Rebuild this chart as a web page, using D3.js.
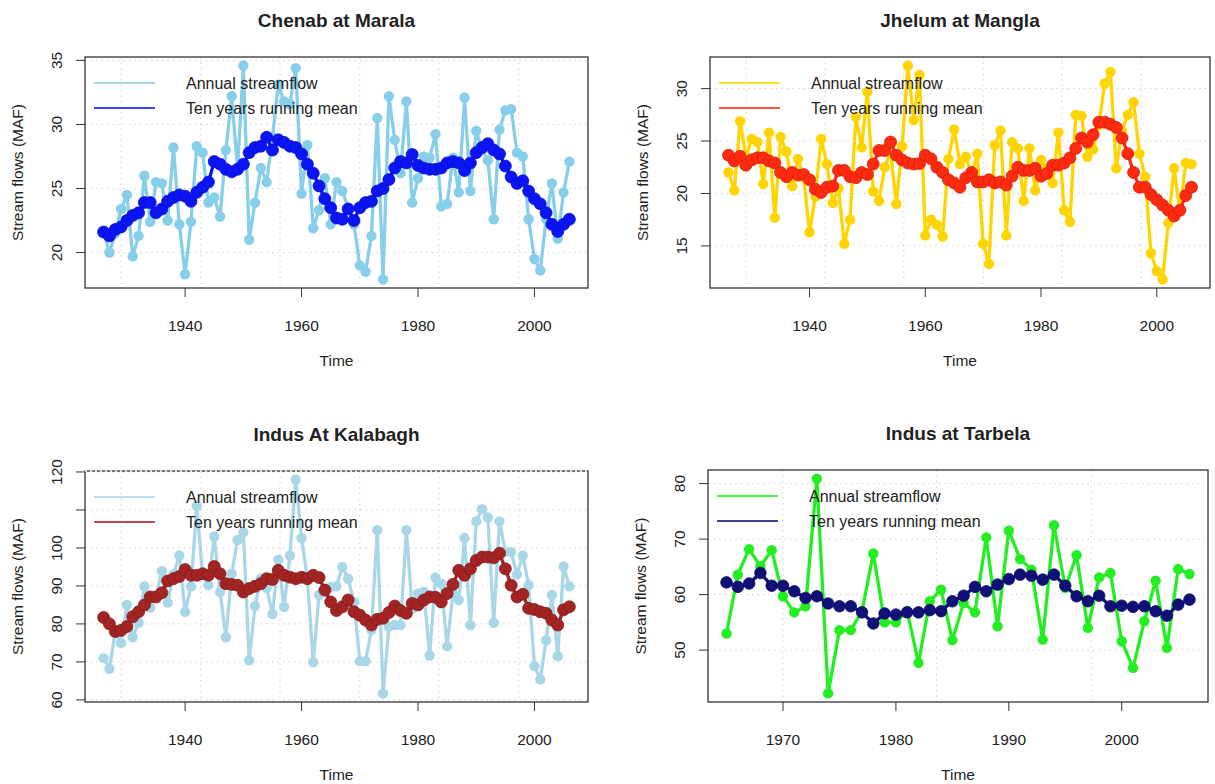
<!DOCTYPE html>
<meta charset="utf-8">
<style>
body { margin: 0; background: #fff; }
text { font-family: 'Liberation Sans', Arial, sans-serif; fill: #222; }
.title { font-size: 19px; font-weight: bold; }
.tick { font-size: 15.5px; }
.axlab { font-size: 15.5px; }
.legendLabel { font-size: 16px; }
.grid { stroke: #cfcfcf; stroke-width: 1; stroke-dasharray: 1.5,4; }
</style>
<body>
<script src="https://d3js.org/d3.v7.min.js"></script>
<script>
// years
const yearsLong = d3.range(1926, 2007),
      yearsTarbela = d3.range(1965, 2007);

// Chenab at Marala
const chenabAnnual = [21.6, 20.0, 21.5, 23.4, 24.5, 19.7, 21.3, 26.0, 22.4, 25.5,
  25.4, 22.5, 28.2, 22.2, 18.3, 22.4, 28.3, 27.8, 23.9, 24.3,
  22.8, 28.0, 32.2, 26.5, 34.6, 21.0, 23.9, 26.6, 25.5, 29.0,
  33.1, 31.8, 31.6, 34.4, 24.6, 28.4, 21.9, 23.3, 25.8, 22.2,
  25.5, 24.8, 23.5, 22.2, 19.0, 18.5, 21.3, 30.5, 17.9, 32.2,
  28.8, 26.2, 31.8, 23.9, 25.8, 27.5, 27.4, 29.25, 23.6, 23.8,
  27.4, 24.7, 32.1, 24.8, 29.5, 28.0, 27.2, 22.6, 29.6, 31.1,
  31.2, 27.8, 27.5, 22.6, 19.5, 18.6, 22.6, 25.4, 21.1, 24.7,
  27.1];
const chenabMean = [21.6, 21.3, 21.8, 22.0, 22.5, 22.9, 23.1, 23.9, 23.9, 23.1,
  23.4, 24.0, 24.3, 24.5, 24.4, 24.0, 24.7, 25.1, 25.5, 27.1,
  26.9, 26.5, 26.3, 26.5, 26.9, 27.8, 28.2, 28.3, 29.0, 28.0,
  28.8, 28.6, 28.3, 28.2, 27.7, 26.9, 26.2, 25.2, 24.2, 23.5,
  22.7, 22.6, 23.4, 22.5, 23.5, 23.9, 24.0, 24.8, 25.0, 25.7,
  26.6, 27.1, 27.0, 27.65, 26.8, 26.6, 26.5, 26.5, 26.6, 27.0,
  27.1, 27.0, 26.4, 27.0, 27.8, 28.2, 28.5, 28.0, 27.7, 26.75,
  25.9, 25.4, 25.6, 24.8, 24.2, 23.8, 23.1, 22.2, 21.65, 22.2,
  22.6];

// Jhelum at Mangla
const jhelumAnnual = [22.0, 20.3, 26.9, 23.5, 25.2, 24.9, 20.9, 25.8, 17.7, 25.4,
  24.0, 20.7, 23.3, 21.5, 16.3, 19.7, 25.2, 22.8, 19.1, 20.5,
  15.2, 17.5, 27.3, 24.4, 29.7, 20.2, 19.3, 22.5, 24.0, 19.0,
  24.5, 32.2, 27.0, 31.3, 16.0, 17.5, 17.0, 15.9, 23.3, 26.1,
  22.8, 23.5, 21.8, 23.8, 15.2, 13.3, 24.6, 26.0, 16.0, 24.9,
  24.3, 19.3, 24.3, 20.3, 23.2, 22.3, 21.0, 25.8, 18.4, 17.3,
  27.5, 27.4, 23.5, 24.2, 26.5, 30.5, 31.6, 22.4, 26.0, 27.5,
  28.7, 23.8, 21.6, 14.3, 12.6, 11.8, 17.2, 22.4, 18.3, 22.9,
  22.8];
const jhelumMean = [23.65, 23.1, 23.55, 22.7, 23.2, 23.4, 23.4, 23.1, 22.9, 22.0,
  21.6, 22.0, 21.75, 21.8, 21.3, 20.4, 20.1, 20.6, 20.7, 22.2,
  22.2, 21.6, 21.5, 22.0, 21.8, 22.8, 24.1, 24.1, 24.9, 23.65,
  23.2, 22.9, 22.8, 22.85, 23.65, 23.3, 22.5, 22.0, 21.3, 21.0,
  20.6, 21.5, 22.0, 21.1, 21.1, 21.3, 21.0, 21.1, 20.8, 21.65,
  22.5, 22.2, 22.2, 22.4, 21.65, 21.9, 22.7, 22.7, 22.9, 23.4,
  24.3, 25.3, 24.9, 25.6, 26.8, 26.8, 26.6, 26.3, 25.3, 23.8,
  22.0, 20.6, 20.6, 19.9, 19.4, 18.9, 18.4, 17.85, 18.4, 19.8,
  20.6];

// Indus at Kalabagh
const kalabaghAnnual = [71.0, 68.2, 78.0, 75.0, 85.0, 76.5, 80.3, 89.9, 84.3, 87.5,
  93.9, 85.6, 93.0, 98.0, 83.2, 89.9, 111.0, 93.0, 90.2, 103.0,
  88.4, 76.5, 93.2, 102.1, 104.1, 70.4, 84.7, 91.9, 89.5, 82.6,
  96.9, 84.5, 98.0, 118.0, 102.6, 92.0, 69.9, 87.6, 88.4, 89.7,
  89.9, 95.0, 91.9, 85.8, 70.2, 70.2, 78.4, 104.7, 61.7, 79.3,
  79.7, 79.7, 104.7, 84.0, 88.0, 88.4, 71.7, 92.2, 90.6, 74.1,
  88.0, 86.3, 102.6, 79.7, 107.0, 110.2, 108.0, 80.3, 107.0, 99.0,
  98.9, 93.0, 98.0, 90.2, 68.9, 65.4, 75.7, 87.6, 71.5, 95.1,
  89.9];
const kalabaghMean = [81.7, 80.0, 78.0, 78.3, 79.3, 81.9, 83.2, 85.0, 87.1, 87.1,
  88.2, 91.3, 91.9, 92.5, 94.3, 92.8, 92.8, 93.2, 92.8, 95.1,
  93.2, 90.6, 90.4, 90.2, 88.4, 89.3, 89.9, 90.6, 91.9, 91.7,
  94.1, 92.8, 92.3, 91.9, 92.3, 91.9, 92.8, 92.2, 88.9, 85.8,
  83.5, 84.5, 86.3, 83.2, 82.3, 81.0, 79.7, 81.2, 81.5, 83.0,
  84.7, 83.5, 82.8, 85.4, 85.0, 86.3, 87.1, 87.0, 85.8, 88.0,
  90.4, 94.1, 92.8, 94.5, 96.7, 97.6, 97.6, 97.4, 98.6, 94.5,
  90.2, 87.1, 87.8, 84.1, 83.8, 83.2, 82.8, 81.0, 79.7, 83.7,
  84.5];

// Indus at Tarbela
const tarbelaAnnual = [53.0, 63.6, 68.2, 65.1, 68.0, 59.7, 56.8, 57.9, 80.9, 42.2,
  53.6, 53.6, 57.0, 67.4, 55.0, 55.0, 57.0, 47.7, 58.8, 60.9,
  51.8, 58.5, 56.8, 70.3, 54.3, 71.5, 66.4, 64.5, 51.9, 72.5,
  61.2, 67.1, 54.0, 63.1, 63.9, 51.6, 46.8, 55.2, 62.5, 50.4,
  64.6, 63.7];
const tarbelaMean = [62.2, 61.4, 62.0, 63.9, 61.6, 61.6, 60.6, 59.4, 59.7, 58.4,
  57.9, 57.9, 56.8, 54.8, 56.6, 56.4, 56.8, 56.8, 57.2, 57.0,
  58.8, 59.8, 61.4, 60.6, 61.8, 62.8, 63.6, 63.4, 62.7, 63.6,
  61.6, 59.7, 58.8, 59.8, 57.9, 58.0, 57.8, 57.9, 57.0, 56.2,
  58.2, 59.1];

// ticks
const xTicksLong = [1940, 1960, 1980, 2000],
      xTicksTarbela = [1970, 1980, 1990, 2000],
      gridYears = [1929, 1942.7, 1956.3, 1970, 1983.6, 1997.3];

const legendLabels = ["Annual streamflow", "Ten years running mean"];

const panels = [
  { title: "Chenab at Marala", years: yearsLong, annual: chenabAnnual, mean: chenabMean,
    cA: "#87ceeb", cM: "#0a14f5", rM: 6, yTicks: [20, 25, 30, 35], yLabels: [20, 25, 30, 35],
    xTicks: xTicksLong, box: [85, 57, 588, 288] },
  { title: "Jhelum at Mangla", years: yearsLong, annual: jhelumAnnual, mean: jhelumMean,
    cA: "#ffd400", cM: "#ff2a10", rM: 6, yTicks: [15, 20, 25, 30], yLabels: [15, 20, 25, 30],
    xTicks: xTicksLong, box: [710, 57, 1210, 288] },
  { title: "Indus At Kalabagh", years: yearsLong, annual: kalabaghAnnual, mean: kalabaghMean,
    cA: "#a8d8e8", cM: "#a42424", rM: 6, yTicks: [60, 70, 80, 90, 100, 110, 120], yLabels: [60, 70, 80, 90, 100, 120],
    xTicks: xTicksLong, box: [85, 471, 588, 702], dashTop: true },
  { title: "Indus at Tarbela", years: yearsTarbela, annual: tarbelaAnnual, mean: tarbelaMean,
    cA: "#22ee22", cM: "#101078", rM: 5.8, yTicks: [50, 60, 70, 80], yLabels: [50, 60, 70, 80],
    xTicks: xTicksTarbela, box: [708, 470, 1208, 702] }
];

const svg = d3.select("body").append("svg")
  .attr("width", 1215).attr("height", 784);

// extend range by 4% like base R
function pad(ext) {
  const d = (ext[1] - ext[0]) * 0.04;
  return [ext[0] - d, ext[1] + d];
}

panels.forEach(p => {
  const [x0, y0, x1, y1] = p.box;
  const x = d3.scaleLinear().domain(pad(d3.extent(p.years))).range([x0, x1]);
  const y = d3.scaleLinear()
    .domain(pad(d3.extent(p.annual.concat(p.mean)))).range([y1, y0]);
  const g = svg.append("g");

  // grid
  g.append("g").selectAll("line")
    .data(p.yTicks).join("line")
      .attr("class", "grid")
      .attr("x1", x0).attr("x2", x1)
      .attr("y1", d => y(d)).attr("y2", d => y(d));
  g.append("g").selectAll("line")
    .data(gridYears.filter(d => x(d) > x0 + 2 && x(d) < x1 - 2)).join("line")
      .attr("class", "grid")
      .attr("y1", y0).attr("y2", y1)
      .attr("x1", d => x(d)).attr("x2", d => x(d));

  const line = d3.line().x((d, i) => x(p.years[i])).y(d => y(d));

  // annual
  g.append("path").datum(p.annual)
    .attr("fill", "none").attr("stroke", p.cA).attr("stroke-width", 3.3)
    .attr("stroke-linejoin", "round").attr("d", line);
  g.append("g").selectAll("circle")
    .data(p.annual).join("circle")
      .attr("cx", (d, i) => x(p.years[i])).attr("cy", d => y(d))
      .attr("r", 5.2).attr("fill", p.cA);

  // running mean
  g.append("path").datum(p.mean)
    .attr("fill", "none").attr("stroke", p.cM).attr("stroke-width", 3.3)
    .attr("stroke-linejoin", "round").attr("d", line);
  g.append("g").selectAll("circle")
    .data(p.mean).join("circle")
      .attr("cx", (d, i) => x(p.years[i])).attr("cy", d => y(d))
      .attr("r", p.rM).attr("fill", p.cM)
      .attr("stroke", d3.color(p.cM).darker(0.6)).attr("stroke-width", 0.8);

  // box
  g.append("rect")
    .attr("x", x0).attr("y", y0).attr("width", x1 - x0).attr("height", y1 - y0)
    .attr("fill", "none").attr("stroke", "#333").attr("stroke-width", 1.3);
  if (p.dashTop) {
    g.append("line").attr("x1", x0).attr("x2", x1).attr("y1", y0).attr("y2", y0)
      .attr("stroke", "#fff").attr("stroke-width", 1.6).attr("stroke-dasharray", "2,3");
  }

  // axes
  g.append("g").selectAll("line")
    .data(p.yTicks).join("line")
      .attr("x1", x0 - 9).attr("x2", x0)
      .attr("y1", d => y(d)).attr("y2", d => y(d))
      .attr("stroke", "#333");
  g.append("g").selectAll("text")
    .data(p.yLabels).join("text")
      .attr("class", "tick")
      .attr("text-anchor", "middle").attr("dy", "0.35em")
      .attr("transform", d => `translate(${x0 - 28},${y(d)}) rotate(-90)`)
      .text(d => d);
  g.append("g").selectAll("line")
    .data(p.xTicks).join("line")
      .attr("x1", d => x(d)).attr("x2", d => x(d))
      .attr("y1", y1).attr("y2", y1 + 9)
      .attr("stroke", "#333");
  g.append("g").selectAll("text")
    .data(p.xTicks).join("text")
      .attr("class", "tick")
      .attr("text-anchor", "middle")
      .attr("x", d => x(d)).attr("y", y1 + 43)
      .text(d => d);

  // labels
  g.append("text").attr("class", "title").attr("text-anchor", "middle")
    .attr("x", (x0 + x1) / 2).attr("y", y0 - 30).text(p.title);
  g.append("text").attr("class", "axlab").attr("text-anchor", "middle")
    .attr("x", (x0 + x1) / 2).attr("y", y1 + 78).text("Time");
  g.append("text").attr("class", "axlab").attr("text-anchor", "middle")
    .attr("dy", "0.35em")
    .attr("transform", `translate(${x0 - 67},${(y0 + y1) / 2}) rotate(-90)`)
    .text("Stream flows (MAF)");

  // legend
  const lg = g.append("g").selectAll("g")
    .data(legendLabels).join("g")
      .attr("transform", (d, i) => `translate(${x0 + 9},${y0 + 26 + i * 25})`);
  lg.append("line").attr("x1", 0).attr("x2", 61)
    .attr("stroke", (d, i) => i ? p.cM : p.cA).attr("stroke-width", 2)
    .attr("stroke-opacity", 0.8);
  lg.append("text").attr("class", "legendLabel")
    .attr("x", 92).attr("dy", "0.35em").text(d => d);
});
</script>
</body>
